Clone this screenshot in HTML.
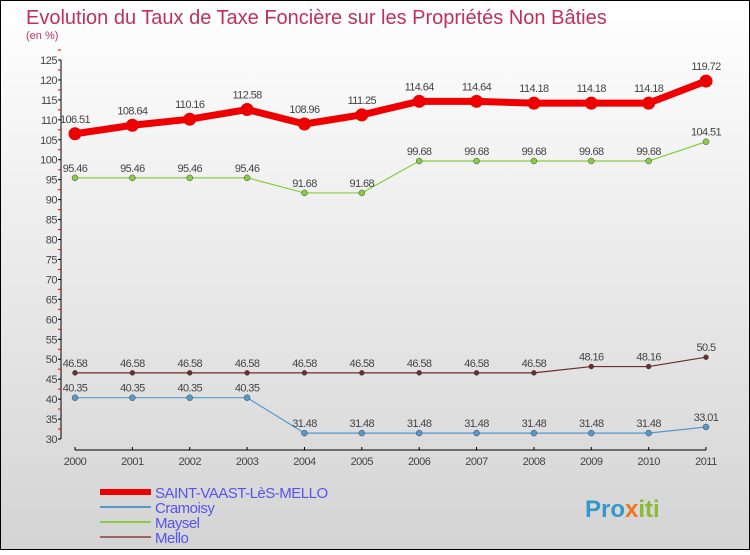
<!DOCTYPE html>
<html><head><meta charset="utf-8"><style>
body{margin:0;width:750px;height:550px;overflow:hidden;font-family:"Liberation Sans",sans-serif}
</style></head><body>
<svg width="750" height="550" xmlns="http://www.w3.org/2000/svg">
<defs><linearGradient id="bg" x1="0" y1="0" x2="0" y2="1"><stop offset="0" stop-color="#ffffff"/><stop offset="1" stop-color="#d4d4d4"/></linearGradient></defs>
<rect x="0.5" y="0.5" width="749" height="549" fill="url(#bg)" stroke="#000"/>
<text x="26" y="24" font-size="20" fill="#c0305a">Evolution du Taux de Taxe Foncière sur les Propriétés Non Bâties</text>
<text x="26" y="39" font-size="11" fill="#c0305a">(en %)</text>
<g id="axes"></g>
<g id="series"></g>
<g id="legend"></g>
<text x="585" y="517" font-size="24" font-weight="bold" fill="#3399cc">Pro<tspan fill="#ee7722">x</tspan><tspan fill="#88bb33">iti</tspan></text>
</svg>
<script>
const years=['2000','2001','2002','2003','2004','2005','2006','2007','2008','2009','2010','2011'];
const yTicks=[30,35,40,45,50,55,60,65,70,75,80,85,90,95,100,105,110,115,120,125];
const saint=[106.51,108.64,110.16,112.58,108.96,111.25,114.64,114.64,114.18,114.18,114.18,119.72];
const cramoisy=[40.35,40.35,40.35,40.35,31.48,31.48,31.48,31.48,31.48,31.48,31.48,33.01];
const maysel=[95.46,95.46,95.46,95.46,91.68,91.68,99.68,99.68,99.68,99.68,99.68,104.51];
const mello=[46.58,46.58,46.58,46.58,46.58,46.58,46.58,46.58,46.58,48.16,48.16,50.5];
const names=['SAINT-VAAST-LèS-MELLO','Cramoisy','Maysel','Mello'];
const NS='http://www.w3.org/2000/svg';
function X(i){return 75+i*(706-75)/11;}
function Y(v){return 439-(v-30)*(439-60)/95;}
function mk(t,a,p){const e=document.createElementNS(NS,t);for(const k in a)e.setAttribute(k,a[k]);p.appendChild(e);return e;}
const ax=document.getElementById('axes');
let l=mk('line',{x1:61,y1:Y(125),x2:61,y2:Y(30),stroke:'#000'},ax);


yTicks.forEach(v=>{
  const t=mk('line',{x1:58,y1:Y(v),x2:61,y2:Y(v),stroke:'#000'},ax);
  
  
  const m=mk('line',{x1:58,y1:Y(v+2.5),x2:61,y2:Y(v+2.5),stroke:'#e00'},ax);
  
  
  const tx=mk('text',{x:57,y:Y(v)+4,'font-size':11,fill:'#444','text-anchor':'end','letter-spacing':'-0.5'},ax);
  tx.textContent=v;
  
  
});
l=mk('line',{x1:75,y1:450,x2:706,y2:450,stroke:'#000'},ax);


years.forEach((y,i)=>{
  const t=mk('line',{x1:X(i),y1:447,x2:X(i),y2:450,stroke:'#000'},ax);
  
  
  const tx=mk('text',{x:X(i),y:465,'font-size':11,fill:'#444','text-anchor':'middle','letter-spacing':'-0.5'},ax);
  tx.textContent=y;
  
  
});
const sg=document.getElementById('series');
const defs=[[mello,'#6b2e2e',1.2,2.5,'mello'],[cramoisy,'#5599cc',1.2,3,'cramoisy'],[maysel,'#88cc44',1.2,3,'maysel'],[saint,'#ee0000',7,6.5,'saint-vaast']];
defs.forEach(([d,c,w,r,n])=>{
  const g=mk('g',{},sg);
  
  
  const p=mk('polyline',{points:d.map((v,i)=>X(i)+','+Y(v)).join(' '),fill:'none',stroke:c,'stroke-width':w,'stroke-linejoin':'round'},g);
  
  
  d.forEach((v,i)=>{
    const ci=mk('circle',{cx:X(i),cy:Y(v),r:r,fill:c,stroke:w>2?c:'#444','stroke-width':w>2?0:0.5},g);
    
    
    const tx=mk('text',{x:X(i),y:Y(v)-(w>2?11:6),'font-size':11,fill:'#444','text-anchor':'middle','letter-spacing':'-0.6'},g);
    tx.textContent=v;
    
    
  });
});
const lg=document.getElementById('legend');
const lc=['#ee0000','#5599cc','#88cc44','#996666'];const lw=[6,2,2,2];const ly=[492,507,522,537];
names.forEach((n,i)=>{
  const li=mk('line',{x1:100,y1:ly[i],x2:151,y2:ly[i],stroke:lc[i],'stroke-width':lw[i]},lg);
  
  
  const tx=mk('text',{x:155,y:ly[i]+6,'font-size':15,fill:'#5555ee','letter-spacing':'-0.5'},lg);
  tx.textContent=n;
  
  
});
</script>
</body></html>
